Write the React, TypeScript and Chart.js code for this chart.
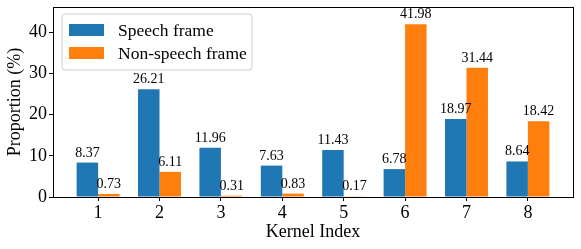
import React, { useEffect, useRef } from "react";
import { Chart, registerables } from "chart.js";

Chart.register(...registerables);

const categories = [1, 2, 3, 4, 5, 6, 7, 8];
const speechValues = [8.37, 26.21, 11.96, 7.63, 11.43, 6.78, 18.97, 8.64];
const nonSpeechValues = [0.73, 6.11, 0.31, 0.83, 0.17, 41.98, 31.44, 18.42];
const yTicks = [0, 10, 20, 30, 40];
const seriesNames = ["Speech frame", "Non-speech frame"];
const seriesColors = ["#1f77b4", "#ff7f0e"];

const FONT = "'Liberation Serif', 'DejaVu Serif', serif";

const framePlugin = {
  id: "frame",
  afterDraw(chart: any) {
    const { ctx, chartArea } = chart;
    ctx.save();
    ctx.strokeStyle = "#000";
    ctx.lineWidth = 1;
    ctx.strokeRect(
      Math.round(chartArea.left) + 0.5,
      Math.round(chartArea.top) + 0.5,
      Math.round(chartArea.right - chartArea.left),
      Math.round(chartArea.bottom - chartArea.top)
    );
    ctx.restore();
  },
};

const labelPlugin = {
  id: "valueLabels",
  afterDatasetsDraw(chart: any) {
    const { ctx } = chart;
    ctx.save();
    ctx.fillStyle = "#000";
    ctx.font = `14px ${FONT}`;
    ctx.textAlign = "center";
    ctx.textBaseline = "alphabetic";
    chart.data.datasets.forEach((ds: any, i: number) => {
      const meta = chart.getDatasetMeta(i);
      meta.data.forEach((bar: any, j: number) => {
        const v = ds.data[j].y;
        ctx.fillText(v.toFixed(2), bar.x, bar.y - 6);
      });
    });
    ctx.restore();
  },
};

const legendPlugin = {
  id: "innerLegend",
  afterDraw(chart: any) {
    const { ctx, chartArea } = chart;
    const x0 = chartArea.left + 9;
    const y0 = chartArea.top + 7;
    const w = 190;
    const h = 56;
    ctx.save();
    ctx.fillStyle = "rgba(255,255,255,0.8)";
    ctx.strokeStyle = "#cccccc";
    ctx.lineWidth = 1;
    ctx.beginPath();
    const r = 3;
    ctx.moveTo(x0 + r, y0);
    ctx.lineTo(x0 + w - r, y0);
    ctx.arcTo(x0 + w, y0, x0 + w, y0 + r, r);
    ctx.lineTo(x0 + w, y0 + h - r);
    ctx.arcTo(x0 + w, y0 + h, x0 + w - r, y0 + h, r);
    ctx.lineTo(x0 + r, y0 + h);
    ctx.arcTo(x0, y0 + h, x0, y0 + h - r, r);
    ctx.lineTo(x0, y0 + r);
    ctx.arcTo(x0, y0, x0 + r, y0, r);
    ctx.closePath();
    ctx.fill();
    ctx.stroke();
    ctx.font = `17.5px ${FONT}`;
    ctx.textBaseline = "middle";
    ctx.textAlign = "left";
    seriesNames.forEach((name, i) => {
      const cy = y0 + 16 + i * 23;
      ctx.fillStyle = seriesColors[i];
      ctx.fillRect(x0 + 7, cy - 6, 35, 12);
      ctx.fillStyle = "#000";
      ctx.fillText(name, x0 + 56, cy + 1);
    });
    ctx.restore();
  },
};

export default function App() {
  const ref = useRef<HTMLCanvasElement>(null);
  useEffect(() => {
    document.body.style.margin = "0";
    const chart = new Chart(ref.current!, {
      type: "bar",
      data: {
        datasets: [
          {
            label: seriesNames[0],
            data: categories.map((c, i) => ({ x: c, y: speechValues[i] })),
            backgroundColor: seriesColors[0],
            borderWidth: 0,
          },
          {
            label: seriesNames[1],
            data: categories.map((c, i) => ({ x: c, y: nonSpeechValues[i] })),
            backgroundColor: seriesColors[1],
            borderWidth: 0,
          },
        ],
      },
      options: {
        animation: false,
        responsive: false,
        maintainAspectRatio: false,
        layout: { padding: { top: 7, right: 8, left: 0, bottom: 0 } },
        datasets: { bar: { categoryPercentage: 0.7, barPercentage: 1, grouped: true } },
        plugins: { legend: { display: false }, tooltip: { enabled: false } },
        scales: {
          x: {
            type: "linear",
            min: 0.265,
            max: 8.735,
            offset: false,
            afterBuildTicks: (s: any) => {
              s.ticks = categories.map((v) => ({ value: v }));
            },
            afterFit: (s: any) => {
              s.height = 52;
              s.paddingLeft = 0;
              s.paddingRight = 0;
            },
            grid: {
              offset: false,
              drawOnChartArea: false,
              drawTicks: true,
              tickLength: 4,
              tickColor: "#000",
            },
            border: { display: true, color: "#000" },
            ticks: {
              color: "#000",
              font: { family: FONT, size: 18 },
              padding: 1,
              callback: (v: any) => String(v),
            },
            title: {
              display: true,
              text: "Kernel Index",
              color: "#000",
              font: { family: FONT, size: 18, lineHeight: 1.2 },
              padding: { top: 0, bottom: 6 },
            },
          },
          y: {
            type: "linear",
            min: 0,
            max: 46.18,
            afterBuildTicks: (s: any) => {
              s.ticks = yTicks.map((v) => ({ value: v }));
            },
            afterFit: (s: any) => {
              s.width = 53;
              s.paddingTop = 0;
              s.paddingBottom = 0;
            },
            grid: {
              drawOnChartArea: false,
              drawTicks: true,
              tickLength: 4,
              tickColor: "#000",
            },
            border: { display: true, color: "#000" },
            ticks: {
              color: "#000",
              font: { family: FONT, size: 18 },
              padding: 2,
            },
            title: {
              display: true,
              text: "Proportion (%)",
              color: "#000",
              font: { family: FONT, size: 18, lineHeight: 1.2 },
              padding: { top: 4, bottom: 0 },
            },
          },
        },
      },
      plugins: [framePlugin, labelPlugin, legendPlugin],
    } as any);
    return () => chart.destroy();
  }, []);
  return (
    <div style={{ width: 581, height: 249 }}>
      <canvas ref={ref} width={581} height={249} style={{ display: "block" }} />
    </div>
  );
}
